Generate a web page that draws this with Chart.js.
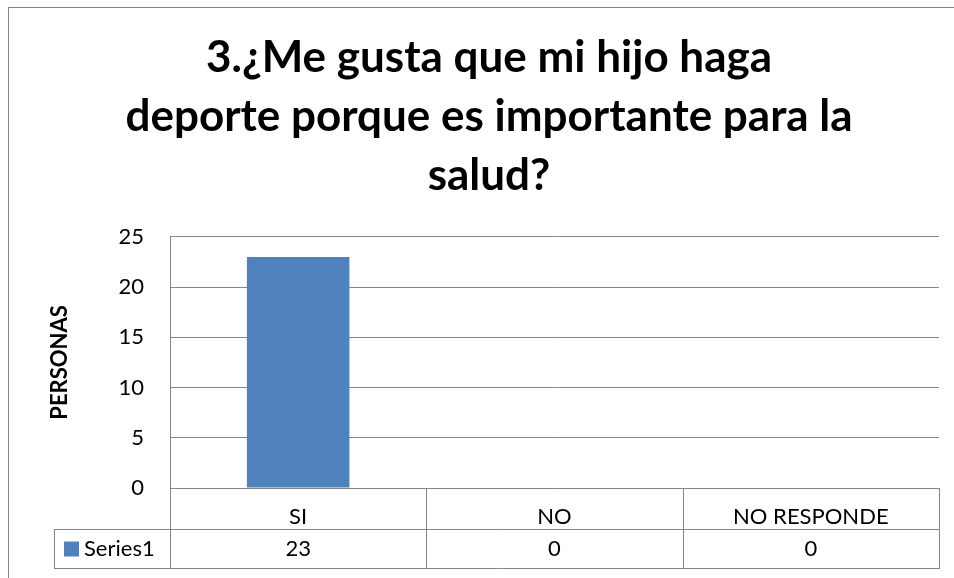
<!DOCTYPE html>
<html>
<head>
<meta charset="utf-8">
<script src="https://cdn.jsdelivr.net/npm/chart.js@4/dist/chart.umd.min.js"></script>
<style>
  html, body { margin: 0; padding: 0; background: #fff; }
  #wrap { width: 954px; height: 578px; }
</style>
</head>
<body>
<div id="wrap"><canvas id="myChart" width="954" height="578"></canvas></div>
<script>
var categories = ['SI', 'NO', 'NO RESPONDE'];
var seriesName = 'Series1';
var values = [23, 0, 0];
var yTicks = [0, 5, 10, 15, 20, 25];
var titleLines = ['3.¿Me gusta que mi hijo haga', 'deporte porque es importante para la', 'salud?'];

var FONT = 'Lato, "Open Sans", sans-serif';
var GRID = '#868686';
var BAR = '#4F81BD';

// plot area in the picture: left 170, right 939, table bottom 569
var PAD_LEFT = 39;
var TABLE_LEFT = 54;

// frame + data table under the x axis
var tablePlugin = {
    id: 'dataTable',
    afterDraw: function (chart) {
        var ctx = chart.ctx;
        var x = chart.scales.x;
        var area = chart.chartArea;
        var top = area.bottom;
        var mid = top + Math.round(x.height / 2);
        var bot = x.bottom;
        var left = area.left, right = area.right;
        var step = x.getPixelForValue(1) - x.getPixelForValue(0);

        ctx.save();
        ctx.strokeStyle = GRID;
        ctx.lineWidth = 1;
        ctx.beginPath();
        // axis line carried down through the table
        ctx.moveTo(Math.round(left) + 0.5, area.top);
        ctx.lineTo(Math.round(left) + 0.5, bot);
        // category separators
        for (var i = 0; i < categories.length; i++) {
            var xs = Math.round(x.getPixelForValue(i) + step / 2) + 0.5;
            ctx.moveTo(xs, top);
            ctx.lineTo(xs, bot);
        }
        // rows
        ctx.moveTo(TABLE_LEFT, mid + 0.5);
        ctx.lineTo(right, mid + 0.5);
        ctx.moveTo(TABLE_LEFT, bot - 0.5);
        ctx.lineTo(right, bot - 0.5);
        ctx.moveTo(TABLE_LEFT + 0.5, mid);
        ctx.lineTo(TABLE_LEFT + 0.5, bot);
        ctx.stroke();

        // legend key + series values
        var cy = (mid + bot) / 2;
        ctx.fillStyle = BAR;
        ctx.fillRect(TABLE_LEFT + 10, cy - 7.5, 15, 15);
        ctx.fillStyle = '#000';
        ctx.font = '22px ' + FONT;
        ctx.textBaseline = 'middle';
        ctx.textAlign = 'left';
        ctx.fillText(seriesName, TABLE_LEFT + 30, cy);
        ctx.textAlign = 'center';
        for (var j = 0; j < values.length; j++) {
            ctx.fillText(String(values[j]), x.getPixelForValue(j), cy);
        }

        // outer chart frame
        ctx.strokeRect(8.5, 7.5, 1000, 600);
        ctx.restore();
    }
};

var ctx = document.getElementById('myChart').getContext('2d');
var chart = new Chart(ctx, {
    type: 'bar',
    data: {
        labels: categories,
        datasets: [{
            label: seriesName,
            data: values,
            backgroundColor: BAR,
            borderWidth: 0,
            categoryPercentage: 1,
            barPercentage: 0.4
        }]
    },
    options: {
        responsive: false,
        animation: false,
        layout: { padding: { left: PAD_LEFT, top: 0, right: 15, bottom: 9 } },
        plugins: {
            legend: { display: false },
            tooltip: { enabled: false },
            title: {
                display: true,
                text: titleLines,
                color: '#000',
                font: { family: FONT, size: 44, weight: 'bold', lineHeight: 1.34 },
                padding: { top: 28, bottom: 32 }
            }
        },
        scales: {
            x: {
                grid: { display: false },
                border: { display: false },
                ticks: { color: '#000', font: { family: FONT, size: 22 }, padding: 8 },
                afterFit: function (s) { s.height = 81; }
            },
            y: {
                min: 0,
                max: 25,
                afterBuildTicks: function (s) { s.ticks = yTicks.map(function (v) { return { value: v }; }); },
                grid: { color: GRID, drawTicks: false },
                border: { display: false },
                ticks: { color: '#000', font: { family: FONT, size: 22 }, padding: 26 },
                title: {
                    display: true,
                    text: 'PERSONAS',
                    color: '#000',
                    font: { family: FONT, size: 22, weight: 'bold' },
                    padding: { top: 8, bottom: 0 }
                },
                afterFit: function (s) { s.width = 170 - PAD_LEFT; }
            }
        }
    },
    plugins: [tablePlugin]
});
</script>
</body>
</html>
